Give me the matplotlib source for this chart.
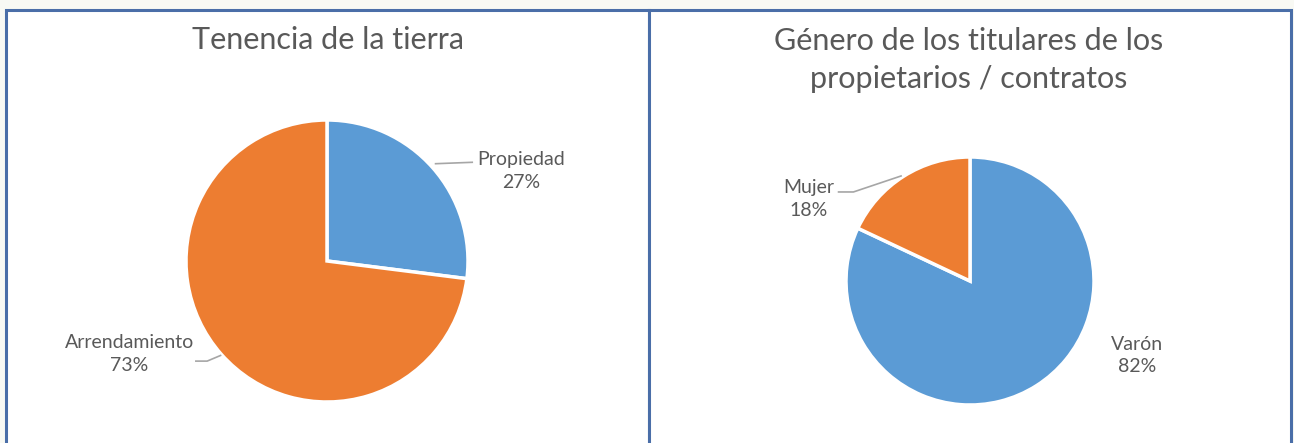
## two pie charts side by side, excel style

import matplotlib.pyplot as plt
from matplotlib.patches import Rectangle

## DATA
tenencia_labels = ['Propiedad', 'Arrendamiento']
tenencia_vals = [27, 73]
tenencia_colors = ['#5B9BD5', '#ED7D31']

genero_labels = ['Varón', 'Mujer']
genero_vals = [82, 18]
genero_colors = ['#5B9BD5', '#ED7D31']

W, H = 1294, 443
txt_col = '#595959'
plt.rcParams['font.family'] = ['Lato', 'DejaVu Sans']

fig = plt.figure(figsize=(W / 100, H / 100), dpi=100, facecolor='#F8F9F4')


def px(x0, y0, x1, y1):
    # pixel box (from top-left) -> figure fraction rect
    return [x0 / W, (H - y1) / H, (x1 - x0) / W, (y1 - y0) / H]


## white panels with blue frame (behind the axes)
for x0, x1 in [(6, 649), (649, 1291)]:
    fig.patches.append(Rectangle((x0 / W, -0.05), (x1 - x0) / W, (H + 20 - 8) / H,
                                 transform=fig.transFigure, facecolor='white',
                                 edgecolor='#4A6EA8', linewidth=2.2, zorder=-5))


def draw_pie(box, vals, labels, colors, label_pos, leaders):
    ax = fig.add_axes(px(*box))
    ax.patch.set_visible(False)
    wedges, _ = ax.pie(vals, colors=colors, startangle=90, counterclock=False,
                       radius=1, wedgeprops=dict(edgecolor='white', linewidth=2.5))
    ax.set_xlim(-1, 1)
    ax.set_ylim(-1, 1)
    ax.set_aspect('equal')
    ax.axis('off')
    for lab, v, (tx, ty) in zip(labels, vals, label_pos):
        ax.text(tx, ty, f'{lab}\n{v}%', ha='center', va='center', fontsize=14,
                color=txt_col, linespacing=1.4, clip_on=False)
    for xs, ys in leaders:
        ax.plot(xs, ys, color='#A6A6A6', lw=1.2, clip_on=False)
    return ax


draw_pie((186, 120, 468, 402), tenencia_vals, tenencia_labels, tenencia_colors,
         [(1.375, 0.64), (-1.40, -0.66)],
         [([0.77, 1.03], [0.69, 0.70]), ([-0.93, -0.85, -0.755], [-0.71, -0.71, -0.67])])

draw_pie((846, 157, 1094, 405), genero_vals, genero_labels, genero_colors,
         [(1.347, -0.60), (-1.30, 0.66)],
         [([-1.06, -0.94, -0.556], [0.718, 0.718, 0.847])])

fig.text(328 / W, 1 - 40 / H, 'Tenencia de la tierra', ha='center', va='center',
         fontsize=22, color=txt_col)
fig.text(969 / W, 1 - 60 / H, 'Género de los titulares de los\npropietarios / contratos',
         ha='center', va='center', fontsize=22, color=txt_col, linespacing=1.4)

fig.savefig('out.png', dpi=100, facecolor=fig.get_facecolor())
